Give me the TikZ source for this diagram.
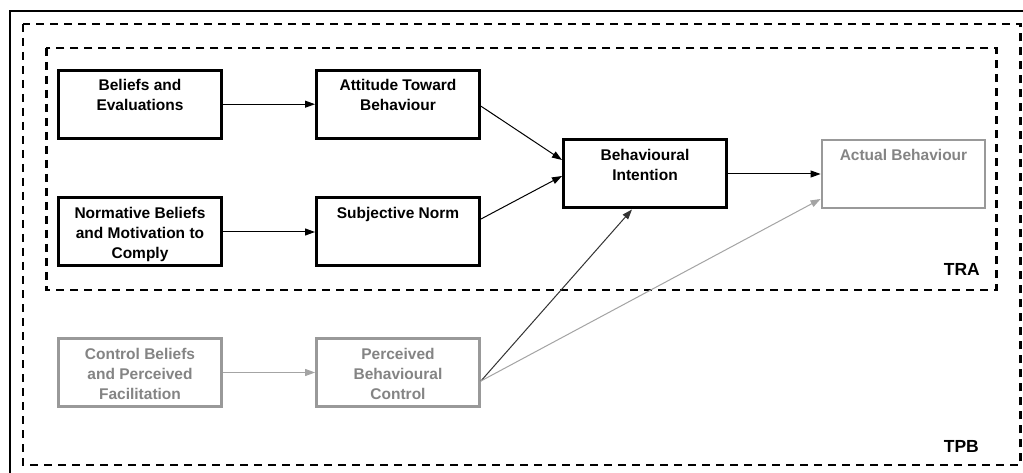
\documentclass[tikz,border=0pt]{standalone}
\usepackage{fontspec}
\setmainfont{Liberation Sans}
\usetikzlibrary{arrows.meta}

\definecolor{boxgrey}{HTML}{999999}
\definecolor{txtgrey}{HTML}{848484}
\definecolor{arrgrey}{HTML}{A4A4A4}

% first text line sits a fixed distance below the box top
\newcommand{\firstline}{\rule{0pt}{12pt}}

\tikzset{
  x=1pt, y=-1pt,
  box/.style={draw, line width=3pt, minimum width=163pt, minimum height=68pt,
              inner sep=0pt},
  greybox/.style={box, draw=boxgrey, line width=2.8pt},
  boxtext/.style={anchor=north, yshift=-9.7pt, inner sep=0pt, align=center,
                  font=\bfseries\fontsize{15.5}{20}\selectfont},
  greytext/.style={boxtext, text=txtgrey},
  link/.style={line width=1pt, -{Triangle[length=10pt,width=7pt]}},
  darklink/.style={link, draw=black!80, -{Triangle[length=10pt,width=7pt,fill=black!80]}},
  greylink/.style={link, draw=arrgrey, -{Triangle[length=10pt,width=7pt,fill=arrgrey]}},
  frame/.style={dash pattern=on 8pt off 6pt, line width=2.9pt},
  tag/.style={anchor=base east, inner sep=0pt, font=\bfseries\fontsize{17.5}{20}\selectfont}
}

\begin{document}
\begin{tikzpicture}
\useasboundingbox (0,0) rectangle (1023,473);
\clip (0,0) rectangle (1023,473);
\fill[white] (0,0) rectangle (1023,473);

% outer solid frame, running past the right and bottom edges
\draw[line width=2.2pt] (10,490) -- (10,11) -- (1040,11);

% TPB and TRA regions
\draw[frame] (23,24) rectangle (1020.3,465);
\draw[frame] (46.3,48) rectangle (996.3,290);
\node[tag] (tra) at (980,276) {TRA};
\node[tag] (tpb) at (979,452) {TPB};

% boxes
\node[box, label={[boxtext]north:\firstline Beliefs and\\Evaluations}] (be) at (140,104.2) {};
\node[box, label={[boxtext]north:\firstline Attitude Toward\\Behaviour}] (att) at (398,104.2) {};
\node[box, label={[boxtext]north:\firstline Normative Beliefs\\and Motivation to\\Comply}] (nb) at (140,232) {};
\node[box, label={[boxtext]north:\firstline Subjective Norm}] (sn) at (398,232) {};
\node[box, label={[boxtext]north:\firstline Behavioural\\Intention}] (bi) at (645,174) {};
\node[greybox, label={[greytext]north:\firstline Actual Behaviour}] (ab) at (903.5,174) {};
\node[greybox, label={[greytext]north:\firstline Control Beliefs\\and Perceived\\Facilitation}] (cb) at (140,372.5) {};
\node[greybox, label={[greytext]north:\firstline Perceived\\Behavioural\\Control}] (pbc) at (398,372.5) {};

% connectors
\draw[link] (be.east) -- (att.west);
\draw[link] (nb.east) -- (sn.west);
\draw[link] ([yshift=-2pt]att.east) -- ([yshift=14pt]bi.west);
\draw[link] ([yshift=13pt]sn.east) -- ([yshift=-2pt]bi.west);
\draw[link] (bi.east) -- (ab.west);
\draw[greylink] (cb.east) -- (pbc.west);
\coordinate (pout) at ([yshift=-8.5pt]pbc.east);
\draw[darklink] (pout) -- ([xshift=-13pt]bi.south);
\draw[greylink] (pout) -- ([yshift=-25pt]ab.west);
\end{tikzpicture}
\end{document}
